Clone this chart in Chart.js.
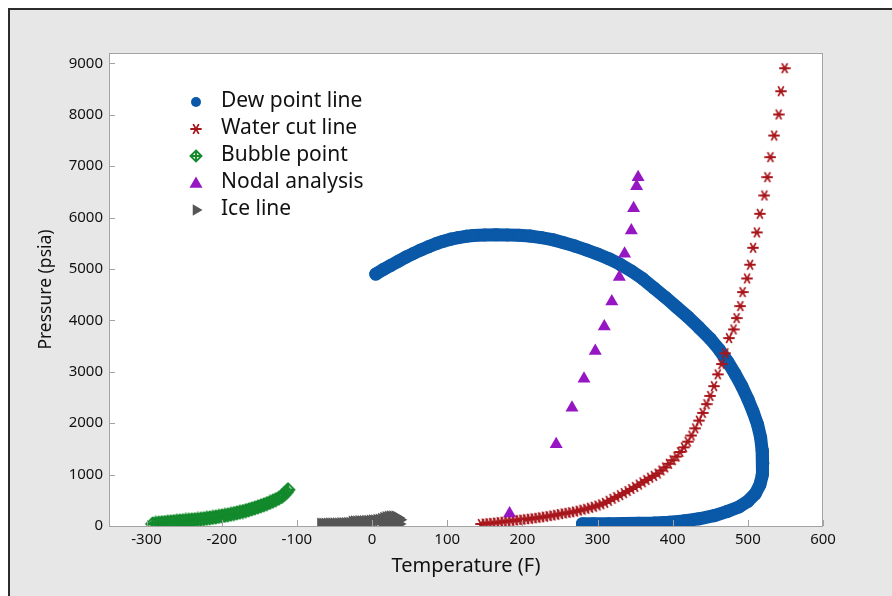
<!DOCTYPE html>
<html lang="en">
<head>
<meta charset="UTF-8">
<title>Phase envelope</title>
<style>
  html, body { margin: 0; padding: 0; background: #fff; overflow: hidden; }
  .marco {
    position: absolute; left: 8px; top: 8px;
    width: 900px; height: 600px;
    background: #e7e7e7;
    border-left: 2px solid #2b2b2b;
    border-top: 2px solid #2b2b2b;
  }
  #grafica { position: absolute; left: 0; top: 0; }
</style>
</head>
<body>
<div class="marco"></div>
<canvas id="grafica" width="892" height="596"></canvas>

<script src="https://cdn.jsdelivr.net/npm/chart.js"></script>
<script>
// values (temperature F, pressure psia)
const seriesNames = ['Dew point line', 'Water cut line', 'Bubble point', 'Nodal analysis', 'Ice line'];

const dewT = [5, 15, 25, 35, 45, 55, 65, 75, 85, 95, 105, 115, 125, 135, 150, 165, 180, 195, 210, 225,
  240, 255, 270, 285, 300, 315, 330, 345, 360, 375, 390, 405, 420, 435, 450, 462, 473, 483, 492, 500,
  507, 513, 517, 519, 520, 519, 516, 510, 500, 488, 472, 455, 435, 415, 395, 375, 355, 335, 315, 295, 280];
const dewP = [4900, 4990, 5070, 5150, 5230, 5300, 5370, 5430, 5490, 5540, 5580, 5610, 5635, 5650, 5660, 5665, 5662, 5655, 5640, 5610,
  5570, 5510, 5445, 5370, 5290, 5200, 5090, 4960, 4810, 4630, 4450, 4260, 4070, 3860, 3640, 3430, 3200, 2960, 2720, 2470,
  2220, 1970, 1720, 1470, 1220, 1000, 800, 630, 480, 370, 280, 200, 140, 100, 75, 60, 52, 48, 46, 46, 46];

const waterT = [145, 150, 155, 160, 165, 170, 175, 180, 185, 190, 195, 200, 205, 210, 215, 220, 225, 230, 235, 240,
  245, 250, 255, 260, 265, 270, 275, 280, 285, 290, 295, 300, 305, 310, 315, 320, 325, 330, 335, 340,
  345, 350, 355, 360, 365, 370, 375, 380, 385, 390, 395, 400, 405, 410, 415, 420, 425, 430, 435, 440,
  445, 450, 455, 460, 465, 470, 475, 481, 485, 490, 493, 499, 503, 507, 512, 516, 522, 526, 530, 535, 541, 544, 549];
const waterP = [40, 48, 53, 60, 68, 76, 84, 92, 100, 108, 116, 124, 132, 140, 150, 160, 170, 182, 193, 205,
  218, 232, 245, 256, 268, 282, 300, 318, 335, 355, 375, 398, 422, 450, 490, 530, 565, 600, 640, 680,
  720, 760, 805, 850, 895, 940, 975, 1020, 1080, 1140, 1210, 1280, 1350, 1440, 1530, 1640, 1760, 1900, 2050, 2200,
  2370, 2530, 2720, 2950, 3150, 3360, 3655, 3824, 4044, 4277, 4549, 4815, 5082, 5412, 5710, 6073, 6429, 6785, 7174, 7595, 8004, 8457, 8904];

const bubbleT = [-292, -288, -284, -280, -276, -272, -268, -264, -260, -256, -252, -248, -244, -240, -236, -232, -228, -224, -220,
  -216, -212, -208, -204, -200, -196, -192, -188, -184, -180, -176, -172, -168, -164, -160, -156, -152, -148, -144,
  -140, -136, -132, -128, -124, -120, -117, -114, -112];
const bubbleP = [40, 50, 56, 62, 68, 74, 80, 86, 92, 97, 102, 107, 112, 117, 122, 127, 133, 140, 150,
  158, 166, 175, 185, 195, 205, 216, 228, 241, 255, 268, 282, 297, 314, 332, 350, 370, 391, 412,
  435, 458, 484, 512, 542, 574, 616, 660, 705];

const nodalT = [183, 245, 266, 282, 297, 309, 319, 329, 336, 345, 348, 352, 354];
const nodalP = [241, 1588, 2301, 2865, 3402, 3882, 4368, 4841, 5295, 5748, 6182, 6610, 6785];

const iceT = [-68, -65, -62, -59, -56, -53, -50, -47, -44, -41, -38, -35, -32, -29, -26, -23, -20, -17, -14, -11,
  -8, -5, -2, 1, 4, 7, 10, 13, 16, 19, 22, 25, 28, 31, 34, 37, 14, 22, 30, 36];
const iceP = [38, 38, 40, 40, 42, 42, 44, 44, 46, 48, 48, 50, 52, 55, 80, 82, 84, 86, 88, 90,
  92, 94, 96, 100, 104, 110, 118, 130, 150, 165, 175, 180, 182, 178, 160, 120, 40, 40, 40, 40];

const xTicks = [-300, -200, -100, 0, 100, 200, 300, 400, 500, 600];
const yTicks = [0, 1000, 2000, 3000, 4000, 5000, 6000, 7000, 8000, 9000];

const azul = '#0a58a8', rojo = '#a8161c', verde = '#138a2c', morado = '#9616c4', gris = '#555555';

function juntar(xs, ys) {
  return xs.map((x, i) => ({ x: x, y: ys[i] }));
}

// little canvases for the markers Chart.js doesn't have
function asterisco(color) {
  const c = document.createElement('canvas');
  c.width = 12; c.height = 12;
  const g = c.getContext('2d');
  g.strokeStyle = color; g.lineWidth = 1.8; g.lineCap = 'round';
  for (let k = 0; k < 3; k++) {
    const a = k * Math.PI / 3;
    g.beginPath();
    g.moveTo(6 - Math.cos(a) * 5, 6 - Math.sin(a) * 5);
    g.lineTo(6 + Math.cos(a) * 5, 6 + Math.sin(a) * 5);
    g.stroke();
  }
  return c;
}

function rombo(color, n) {
  const c = document.createElement('canvas');
  c.width = n; c.height = n;
  const g = c.getContext('2d');
  const m = n / 2, e = n - 1.5;
  g.strokeStyle = color; g.lineWidth = 1.9;
  g.beginPath();
  g.moveTo(m, 1.5); g.lineTo(e, m); g.lineTo(m, e); g.lineTo(1.5, m); g.closePath();
  g.moveTo(m, 1.5); g.lineTo(m, e);
  g.moveTo(1.5, m); g.lineTo(e, m);
  g.stroke();
  return c;
}

const estrella = asterisco(rojo);
const diamante = rombo(verde, 16);
const diamanteLeyenda = rombo(verde, 14);

// white plot area + frame + inward ticks
const fondo = {
  id: 'fondo',
  beforeDraw(chart) {
    const a = chart.chartArea, ctx = chart.ctx;
    ctx.save();
    ctx.fillStyle = '#ffffff';
    ctx.fillRect(a.left, a.top, a.right - a.left, a.bottom - a.top);
    ctx.restore();
  },
  afterDraw(chart) {
    const a = chart.chartArea, ctx = chart.ctx;
    const sx = chart.scales.x, sy = chart.scales.y;
    ctx.save();
    ctx.strokeStyle = '#a3a3a3';
    ctx.lineWidth = 1;
    ctx.strokeRect(a.left + 0.5, a.top + 0.5, a.right - a.left - 1, a.bottom - a.top);
    ctx.beginPath();
    xTicks.forEach(v => {
      const px = Math.round(sx.getPixelForValue(v)) + 0.5;
      ctx.moveTo(px, a.bottom); ctx.lineTo(px, a.bottom - 6);
    });
    yTicks.forEach(v => {
      const py = Math.round(sy.getPixelForValue(v)) + 0.5;
      ctx.moveTo(a.left, py); ctx.lineTo(a.left + 6, py);
    });
    ctx.stroke();
    ctx.restore();
  }
};

// legend sitting inside the plot, top-left
const leyenda = {
  id: 'leyenda',
  afterDatasetsDraw(chart) {
    const ctx = chart.ctx;
    const marcas = [
      { pointStyle: 'circle', radius: 5, rotation: 0, color: azul },
      { pointStyle: estrella, radius: 5, rotation: 0, color: rojo },
      { pointStyle: diamanteLeyenda, radius: 5, rotation: 0, color: verde },
      { pointStyle: 'triangle', radius: 7.5, rotation: 0, color: morado },
      { pointStyle: 'triangle', radius: 6.5, rotation: 90, color: gris }
    ];
    ctx.save();
    ctx.font = "21px 'Noto Sans', sans-serif";
    ctx.textBaseline = 'middle';
    seriesNames.forEach((nombre, i) => {
      const y = 101 + i * 27;
      const m = marcas[i];
      ctx.fillStyle = m.color;
      Chart.helpers.drawPoint(ctx, { pointStyle: m.pointStyle, radius: m.radius, rotation: m.rotation, borderWidth: 0 }, 196, y + (m.pointStyle === 'triangle' && !m.rotation ? 2 : 1));
      ctx.fillStyle = '#111111';
      ctx.fillText(nombre, 221, y);
    });
    ctx.restore();
  }
};

Chart.defaults.font.family = "'Noto Sans', sans-serif";
Chart.defaults.color = '#111111';

new Chart(document.getElementById('grafica'), {
  type: 'scatter',
  data: {
    datasets: [
      {
        label: seriesNames[0], data: juntar(dewT, dewP), order: 5,
        showLine: true, borderColor: azul, borderWidth: 13,
        borderJoinStyle: 'round', borderCapStyle: 'round',
        pointStyle: 'circle', pointRadius: 6.5, pointBorderWidth: 0,
        backgroundColor: azul, clip: 0
      },
      {
        label: seriesNames[1], data: juntar(waterT, waterP), order: 2,
        pointStyle: estrella, pointRadius: 5, clip: 0
      },
      {
        label: seriesNames[2], data: juntar(bubbleT, bubbleP), order: 3,
        pointStyle: diamante, pointRadius: 5, clip: 0
      },
      {
        label: seriesNames[3], data: juntar(nodalT, nodalP), order: 1,
        pointStyle: 'triangle', pointRadius: 7.5, pointBorderWidth: 0,
        backgroundColor: morado, clip: 0
      },
      {
        label: seriesNames[4], data: juntar(iceT, iceP), order: 4,
        pointStyle: 'triangle', pointRotation: 90, pointRadius: 7.5, pointBorderWidth: 0,
        backgroundColor: gris, clip: 0
      }
    ]
  },
  options: {
    responsive: false,
    animation: false,
    layout: { padding: { left: 0, top: 53, right: 69, bottom: 0 } },
    plugins: {
      legend: { display: false },
      tooltip: { enabled: false }
    },
    scales: {
      x: {
        type: 'linear', min: -350, max: 600,
        grid: { display: false, drawTicks: false },
        border: { display: false },
        afterBuildTicks: s => { s.ticks = xTicks.map(v => ({ value: v })); },
        afterFit: s => { s.height = 70; },
        ticks: { font: { size: 15 }, padding: 5, maxRotation: 0, autoSkip: false, callback: v => String(v) },
        title: { display: true, text: 'Temperature (F)', font: { size: 20 }, color: '#111111', padding: { top: 0, bottom: 18 } }
      },
      y: {
        type: 'linear', min: 0, max: 9200,
        grid: { display: false, drawTicks: false },
        border: { display: false },
        afterBuildTicks: s => { s.ticks = yTicks.map(v => ({ value: v })); },
        afterFit: s => { s.width = 109; },
        ticks: { font: { size: 15 }, padding: 6, autoSkip: false, callback: v => String(v) },
        title: { display: true, text: 'Pressure (psia)', font: { size: 17.5 }, color: '#111111', padding: { top: 36, bottom: 0 } }
      }
    }
  },
  plugins: [fondo, leyenda]
});
</script>
</body>
</html>
